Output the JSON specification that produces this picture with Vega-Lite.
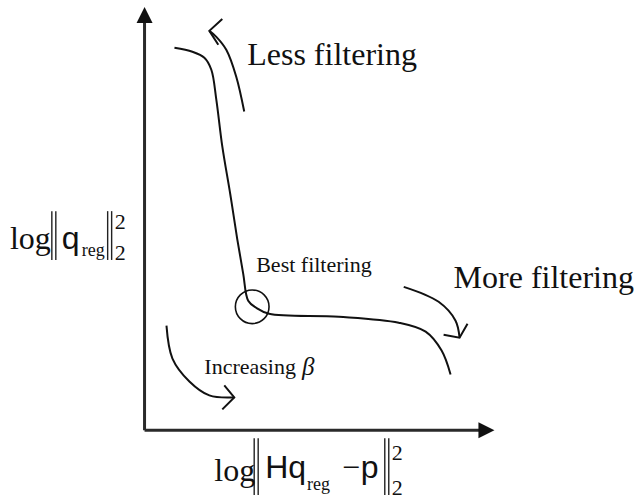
{
  "$schema": "https://vega.github.io/schema/vega-lite/v6.json",
  "width": 634,
  "height": 499,
  "autosize": {"type": "fit", "contains": "padding"},
  "padding": 0,
  "background": "white",
  "config": {"view": {"stroke": null}},
  "encoding": {
    "x": {"field": "u", "type": "quantitative", "scale": {"domain": [-145, 489], "nice": false, "zero": false}, "axis": null},
    "y": {"field": "v", "type": "quantitative", "scale": {"domain": [-67, 432], "nice": false, "zero": false}, "axis": null}
  },
  "layer": [
    {
      "data": {"values": [
        {"u": 0, "v": 0, "u2": 0, "v2": 412},
        {"u": 0, "v": 0, "u2": 338, "v2": 0}
      ]},
      "mark": {"type": "rule", "strokeWidth": 3, "color": "#2a2a2a"},
      "encoding": {"x2": {"field": "u2"}, "y2": {"field": "v2"}}
    },
    {
      "data": {"values": [{"u": 0, "v": 417}]},
      "mark": {"type": "point", "shape": "M0,-1L1,1L-1,1Z", "size": 256, "filled": true, "color": "#111", "opacity": 1},
      "encoding": {}
    },
    {
      "data": {"values": [{"u": 343, "v": 0}]},
      "mark": {"type": "point", "shape": "M1,0L-1,-1L-1,1Z", "size": 256, "filled": true, "color": "#111", "opacity": 1},
      "encoding": {}
    },
    {
      "data": {"values": [
        {"i": 1, "u": 30, "v": 384}, {"i": 2, "u": 48, "v": 380}, {"i": 3, "u": 60, "v": 374},
        {"i": 4, "u": 67, "v": 362}, {"i": 5, "u": 72, "v": 332}, {"i": 6, "u": 78, "v": 285},
        {"i": 7, "u": 86, "v": 237}, {"i": 8, "u": 93, "v": 192}, {"i": 9, "u": 99, "v": 157},
        {"i": 10, "u": 104, "v": 130}, {"i": 11, "u": 112, "v": 123}, {"i": 12, "u": 125, "v": 117},
        {"i": 13, "u": 195, "v": 114}, {"i": 14, "u": 255, "v": 108}, {"i": 15, "u": 282, "v": 99},
        {"i": 16, "u": 298, "v": 80}, {"i": 17, "u": 307, "v": 56}
      ]},
      "mark": {"type": "line", "interpolate": "catmull-rom", "strokeWidth": 2, "color": "#111"},
      "encoding": {"order": {"field": "i", "type": "quantitative"}}
    },
    {
      "data": {"values": [
        {"id": "less", "i": 1, "u": 100, "v": 320}, {"id": "less", "i": 2, "u": 92, "v": 355},
        {"id": "less", "i": 3, "u": 82, "v": 382}, {"id": "less", "i": 4, "u": 72, "v": 395},
        {"id": "less", "i": 5, "u": 65, "v": 401},
        {"id": "more", "i": 1, "u": 260, "v": 144}, {"id": "more", "i": 2, "u": 295, "v": 129},
        {"id": "more", "i": 3, "u": 312, "v": 110}, {"id": "more", "i": 4, "u": 316, "v": 93},
        {"id": "beta", "i": 1, "u": 22, "v": 105}, {"id": "beta", "i": 2, "u": 28, "v": 72},
        {"id": "beta", "i": 3, "u": 45, "v": 49}, {"id": "beta", "i": 4, "u": 65, "v": 35},
        {"id": "beta", "i": 5, "u": 90, "v": 33}
      ]},
      "mark": {"type": "line", "interpolate": "catmull-rom", "strokeWidth": 2, "color": "#111"},
      "encoding": {"detail": {"field": "id"}, "order": {"field": "i", "type": "quantitative"}}
    },
    {
      "data": {"values": [
        {"id": "less", "i": 1, "u": 78, "v": 413}, {"id": "less", "i": 2, "u": 65, "v": 401}, {"id": "less", "i": 3, "u": 74, "v": 387},
        {"id": "more", "i": 1, "u": 300, "v": 96}, {"id": "more", "i": 2, "u": 316, "v": 93}, {"id": "more", "i": 3, "u": 324, "v": 107},
        {"id": "beta", "i": 1, "u": 80, "v": 45}, {"id": "beta", "i": 2, "u": 90, "v": 33}, {"id": "beta", "i": 3, "u": 78, "v": 21}
      ]},
      "mark": {"type": "line", "interpolate": "linear", "strokeWidth": 2, "color": "#111"},
      "encoding": {"detail": {"field": "id"}, "order": {"field": "i", "type": "quantitative"}}
    },
    {
      "data": {"values": [{"u": 108, "v": 124}]},
      "mark": {"type": "point", "shape": "circle", "size": 1134, "filled": false, "stroke": "#111", "strokeWidth": 1.6, "opacity": 1},
      "encoding": {}
    },
    {
      "data": {"values": [
        {"u": -93, "v": 220, "v2": 171}, {"u": -89, "v": 220, "v2": 171},
        {"u": -37, "v": 220, "v2": 171}, {"u": -33, "v": 220, "v2": 171},
        {"u": 110, "v": -8, "v2": -65}, {"u": 114, "v": -8, "v2": -65},
        {"u": 241, "v": -8, "v2": -65}, {"u": 245, "v": -8, "v2": -65}
      ]},
      "mark": {"type": "rule", "strokeWidth": 1.4, "color": "#222"},
      "encoding": {"y2": {"field": "v2"}}
    },
    {
      "data": {"values": [
        {"u": 103, "v": 367, "t": "Less filtering"},
        {"u": 310, "v": 143, "t": "More filtering"}
      ]},
      "mark": {"type": "text", "font": "Liberation Serif", "fontSize": 32, "align": "left", "baseline": "alphabetic", "color": "#111"},
      "encoding": {"text": {"field": "t"}}
    },
    {
      "data": {"values": [
        {"u": 112, "v": 159, "t": "Best filtering"},
        {"u": 60, "v": 56, "t": "Increasing"}
      ]},
      "mark": {"type": "text", "font": "Liberation Serif", "fontSize": 22, "align": "left", "baseline": "alphabetic", "color": "#111"},
      "encoding": {"text": {"field": "t"}}
    },
    {
      "data": {"values": [{"u": 158, "v": 55, "t": "β"}]},
      "mark": {"type": "text", "font": "Liberation Serif", "fontStyle": "italic", "fontSize": 25, "align": "left", "baseline": "alphabetic", "color": "#111"},
      "encoding": {"text": {"field": "t"}}
    },
    {
      "data": {"values": [
        {"u": -135, "v": 182, "t": "log"},
        {"u": 70, "v": -51, "t": "log"},
        {"u": 198, "v": -48, "t": "−"}
      ]},
      "mark": {"type": "text", "font": "Liberation Serif", "fontSize": 32, "align": "left", "baseline": "alphabetic", "color": "#111"},
      "encoding": {"text": {"field": "t"}}
    },
    {
      "data": {"values": [
        {"u": -83, "v": 182, "t": "q"},
        {"u": 121, "v": -48, "t": "Hq"},
        {"u": 217, "v": -48, "t": "p"}
      ]},
      "mark": {"type": "text", "font": "Liberation Sans", "fontSize": 32, "align": "left", "baseline": "alphabetic", "color": "#111"},
      "encoding": {"text": {"field": "t"}}
    },
    {
      "data": {"values": [
        {"u": -63, "v": 175, "t": "reg"},
        {"u": 163, "v": -60, "t": "reg"}
      ]},
      "mark": {"type": "text", "font": "Liberation Serif", "fontSize": 18, "align": "left", "baseline": "alphabetic", "color": "#111"},
      "encoding": {"text": {"field": "t"}}
    },
    {
      "data": {"values": [
        {"u": -30, "v": 202, "t": "2"},
        {"u": -30, "v": 171, "t": "2"},
        {"u": 248, "v": -30, "t": "2"},
        {"u": 248, "v": -65, "t": "2"}
      ]},
      "mark": {"type": "text", "font": "Liberation Serif", "fontSize": 22, "align": "left", "baseline": "alphabetic", "color": "#111"},
      "encoding": {"text": {"field": "t"}}
    }
  ]
}
